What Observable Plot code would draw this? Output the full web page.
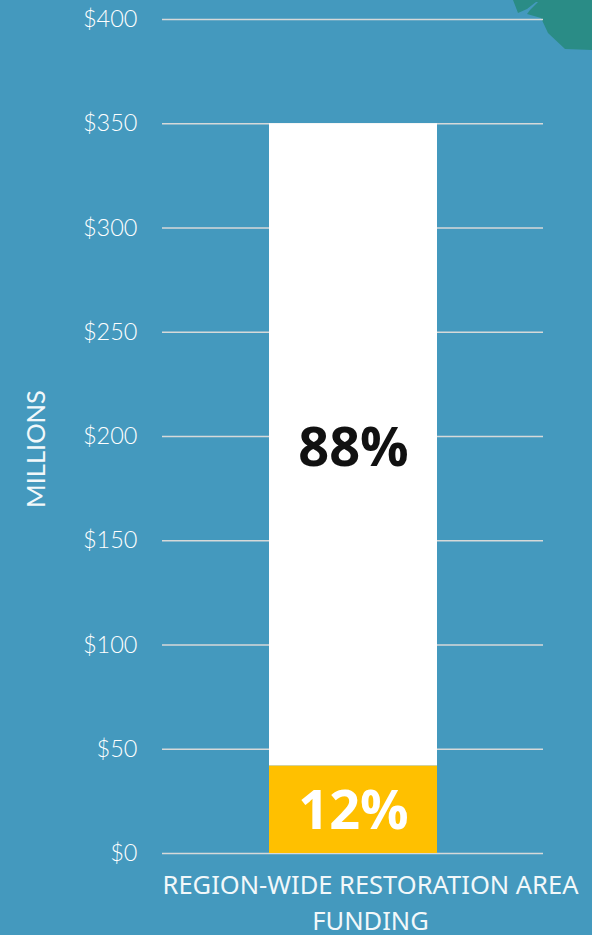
<!DOCTYPE html>
<html><head><meta charset="utf-8">
<script src="https://cdn.jsdelivr.net/npm/d3@7"></script>
<script src="https://cdn.jsdelivr.net/npm/@observablehq/plot@0.6"></script>
<style>
html,body{margin:0;padding:0;background:#4499be;width:592px;height:935px;overflow:hidden}
#land{position:absolute;left:510px;top:0;width:82px;height:52px;background:#2a8c86;
clip-path:polygon(3px 0,8px 13px,17px 9px,26px 2px,28px 2px,20px 10px,17px 14px,31px 18px,38px 33px,55px 49px,82px 50px,82px 0)}
#chart{position:absolute;left:0;top:0}
svg{background:transparent!important;overflow:visible}
</style></head><body>
<div id="land"></div><div id="chart"></div>
<script>
const categories = ["REGION-WIDE RESTORATION AREA\nFUNDING"];
const segments = ["Share A","Share B"];
const amounts = [42, 308];
const shareLabels = ["12%","88%"];
const labelValues = [20, 194];
const labelColors = ["#ffffff","#111111"];
const segmentColors = ["#ffc000","#ffffff"];
const yTicks = [0,50,100,150,200,250,300,350,400];
const yLabel = "MILLIONS";
const yLabelValue = 194;

const bars = segments.map((s,i)=>({cat:categories[0],seg:s,amount:amounts[i]}));
const labels = segments.map((s,i)=>({cat:categories[0],text:shareLabels[i],v:labelValues[i],color:labelColors[i]}));

const plot = Plot.plot({
  width:592,height:935,marginTop:19,marginBottom:82,marginLeft:162,marginRight:49,
  style:{background:"transparent",overflow:"visible"},
  x:{domain:categories,padding:0.388,label:null},
  y:{domain:[0,400],label:null},
  color:{domain:segments,range:segmentColors},
  marks:[
    Plot.ruleY(yTicks,{stroke:"#d6d9d9",strokeWidth:1.5}),
    Plot.barY(bars,{x:"cat",y:"amount",fill:"seg",order:null,
      style:"filter:drop-shadow(0 0 1.5px rgba(40,60,70,.55))"}),
    Plot.axisY({ticks:yTicks,tickSize:0,tickPadding:25,tickFormat:d=>"$"+d,
      fontSize:23.5,fontFamily:"Lato",fontWeight:300,fill:"#ffffff",label:null}),
    Plot.axisX({tickSize:0,tickPadding:15,fontSize:25.5,fontFamily:"Noto Sans",fill:"#f2f8fa",
      lineHeight:1.4,dx:17,label:null,textOverflow:null,lineWidth:Infinity}),
    Plot.text(labels,{x:"cat",y:"v",text:"text",fill:"color",fontSize:54,fontWeight:700,
      fontFamily:"Open Sans"}),
    Plot.text([yLabel],{frameAnchor:"left",y:()=>yLabelValue,text:d=>d,rotate:-90,dx:-126,textAnchor:"middle",
      fontSize:25.5,fontFamily:"Lato",fill:"#f2f8fa"})
  ]
});
document.getElementById("chart").append(plot);
</script>
</body></html>
